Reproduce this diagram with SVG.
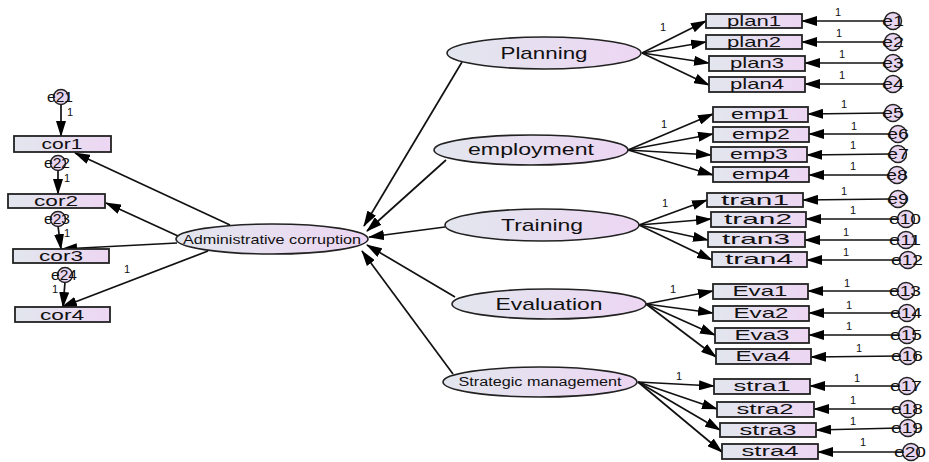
<svg xmlns="http://www.w3.org/2000/svg" width="929" height="462" viewBox="0 0 929 462">
<defs>
<linearGradient id="g" x1="0" y1="0" x2="1" y2="0">
<stop offset="0" stop-color="#e2e6ee"/>
<stop offset="1" stop-color="#edd6f3"/>
</linearGradient>
<marker id="ar" markerUnits="userSpaceOnUse" markerWidth="16" markerHeight="10" refX="15" refY="5" orient="auto">
<path d="M0,0 L16,5 L0,10 z" fill="#000"/>
</marker>
</defs>
<style>
.box{fill:url(#g);stroke:#222;stroke-width:1.8}
.lat{fill:url(#g);stroke:#222;stroke-width:1.6}
.err{fill:#e8d6f0;stroke:#222;stroke-width:1.5}
.t{font-family:"Liberation Sans",Arial,sans-serif;fill:#111;text-anchor:middle}
.bt{font-size:15px}
.lt{font-size:17px}
.et{font-size:14px}
.one{font-family:"Liberation Sans",Arial,sans-serif;font-size:11px;fill:#111}
.c line{stroke:#111;stroke-width:1.7;marker-end:url(#ar)}
</style>
<rect width="929" height="462" fill="#fff"/>
<g class="c" id="connectors">
<line x1="462" y1="62" x2="364" y2="226"/>
<line x1="446" y1="160" x2="367" y2="231"/>
<line x1="445" y1="227" x2="369" y2="237"/>
<line x1="455" y1="297" x2="367" y2="245"/>
<line x1="453" y1="374" x2="362" y2="251"/>
<line x1="230" y1="225" x2="75" y2="153"/>
<line x1="178" y1="236" x2="106" y2="203"/>
<line x1="177" y1="243" x2="62" y2="249"/>
<line x1="208" y1="251" x2="62" y2="307"/>
<line x1="61" y1="104" x2="61" y2="136"/>
<line x1="58" y1="170" x2="58" y2="194"/>
<line x1="58" y1="226" x2="61" y2="249"/>
<line x1="65" y1="282" x2="63" y2="307"/>
<line x1="642" y1="53" x2="706" y2="21"/>
<line x1="642" y1="53" x2="706" y2="42"/>
<line x1="642" y1="53" x2="709" y2="63"/>
<line x1="642" y1="53" x2="709" y2="85"/>
<line x1="628" y1="150" x2="713" y2="114"/>
<line x1="628" y1="150" x2="713" y2="134"/>
<line x1="628" y1="150" x2="711" y2="155"/>
<line x1="628" y1="150" x2="713" y2="175"/>
<line x1="639" y1="225" x2="707" y2="200"/>
<line x1="639" y1="225" x2="711" y2="219"/>
<line x1="639" y1="225" x2="708" y2="240"/>
<line x1="639" y1="225" x2="712" y2="260"/>
<line x1="646" y1="304" x2="713" y2="291"/>
<line x1="646" y1="304" x2="713" y2="313"/>
<line x1="646" y1="304" x2="715" y2="335"/>
<line x1="646" y1="304" x2="716" y2="357"/>
<line x1="638" y1="382" x2="714" y2="386"/>
<line x1="638" y1="382" x2="717" y2="409"/>
<line x1="638" y1="382" x2="720" y2="430"/>
<line x1="638" y1="382" x2="722" y2="452"/>
<line x1="885" y1="21" x2="802" y2="21"/>
<line x1="885" y1="42" x2="802" y2="42"/>
<line x1="885" y1="63" x2="805" y2="63"/>
<line x1="885" y1="84" x2="805" y2="84"/>
<line x1="885" y1="113" x2="808" y2="114"/>
<line x1="890" y1="134" x2="809" y2="134"/>
<line x1="890" y1="154" x2="807" y2="155"/>
<line x1="889" y1="175" x2="809" y2="175"/>
<line x1="890" y1="199" x2="803" y2="200"/>
<line x1="898" y1="219" x2="806" y2="219"/>
<line x1="898" y1="240" x2="805" y2="240"/>
<line x1="900" y1="260" x2="807" y2="260"/>
<line x1="898" y1="291" x2="808" y2="291"/>
<line x1="899" y1="313" x2="809" y2="313"/>
<line x1="899" y1="335" x2="809" y2="335"/>
<line x1="900" y1="356" x2="811" y2="357"/>
<line x1="899" y1="386" x2="810" y2="386"/>
<line x1="900" y1="409" x2="814" y2="409"/>
<line x1="900" y1="428" x2="816" y2="430"/>
<line x1="903" y1="452" x2="818" y2="452"/>
</g>
<g id="labels1">
<text class="one" x="67" y="116">1</text>
<text class="one" x="64" y="182">1</text>
<text class="one" x="64" y="237">1</text>
<text class="one" x="52" y="293">1</text>
<text class="one" x="124" y="273">1</text>
<text class="one" x="660" y="31">1</text>
<text class="one" x="661" y="128">1</text>
<text class="one" x="662" y="207">1</text>
<text class="one" x="670" y="293">1</text>
<text class="one" x="676" y="380">1</text>
<text class="one" x="835" y="16">1</text>
<text class="one" x="836" y="37">1</text>
<text class="one" x="839" y="58">1</text>
<text class="one" x="839" y="79">1</text>
<text class="one" x="841" y="108">1</text>
<text class="one" x="851" y="130">1</text>
<text class="one" x="850" y="149">1</text>
<text class="one" x="850" y="170">1</text>
<text class="one" x="841" y="195">1</text>
<text class="one" x="850" y="214">1</text>
<text class="one" x="843" y="236">1</text>
<text class="one" x="843" y="256">1</text>
<text class="one" x="844" y="287">1</text>
<text class="one" x="846" y="309">1</text>
<text class="one" x="846" y="330">1</text>
<text class="one" x="856" y="352">1</text>
<text class="one" x="854" y="382">1</text>
<text class="one" x="850" y="404">1</text>
<text class="one" x="850" y="425">1</text>
<text class="one" x="860" y="446">1</text>
</g>
<g id="admin"><ellipse class="lat" cx="272" cy="239" rx="96" ry="15"/><text class="t" x="272" y="244" font-size="13" textLength="178" lengthAdjust="spacingAndGlyphs">Administrative corruption</text></g>
<g id="planning"><ellipse class="lat" cx="544" cy="53" rx="97" ry="16"/><text class="t lt" x="544" y="59" textLength="87" lengthAdjust="spacingAndGlyphs">Planning</text></g>
<g id="employment"><ellipse class="lat" cx="531" cy="150" rx="97" ry="15"/><text class="t lt" x="531" y="155" textLength="126" lengthAdjust="spacingAndGlyphs">employment</text></g>
<g id="training"><ellipse class="lat" cx="542" cy="225" rx="97" ry="16"/><text class="t lt" x="542" y="231" textLength="82" lengthAdjust="spacingAndGlyphs">Training</text></g>
<g id="evaluation"><ellipse class="lat" cx="549" cy="304" rx="97" ry="15"/><text class="t lt" x="549" y="310" textLength="107" lengthAdjust="spacingAndGlyphs">Evaluation</text></g>
<g id="strategic"><ellipse class="lat" cx="540" cy="382" rx="97" ry="15"/><text class="t" x="540" y="386" font-size="12" textLength="163" lengthAdjust="spacingAndGlyphs">Strategic management</text></g>
<g id="cor1"><rect class="box" x="14" y="136" width="97" height="16"/><text class="t bt" x="62" y="149" textLength="41" lengthAdjust="spacingAndGlyphs">cor1</text></g>
<g id="cor2"><rect class="box" x="8" y="194" width="97" height="14"/><text class="t bt" x="56" y="206" textLength="44" lengthAdjust="spacingAndGlyphs">cor2</text></g>
<g id="cor3"><rect class="box" x="13" y="249" width="96" height="14"/><text class="t bt" x="61" y="261" textLength="44" lengthAdjust="spacingAndGlyphs">cor3</text></g>
<g id="cor4"><rect class="box" x="15" y="307" width="95" height="15"/><text class="t bt" x="62" y="320" textLength="44" lengthAdjust="spacingAndGlyphs">cor4</text></g>
<g id="plan1"><rect class="box" x="706" y="14" width="96" height="14"/><text class="t bt" x="754" y="26" textLength="54" lengthAdjust="spacingAndGlyphs">plan1</text></g>
<g id="plan2"><rect class="box" x="706" y="35" width="96" height="14"/><text class="t bt" x="754" y="47" textLength="54" lengthAdjust="spacingAndGlyphs">plan2</text></g>
<g id="plan3"><rect class="box" x="709" y="56" width="96" height="15"/><text class="t bt" x="757" y="68" textLength="54" lengthAdjust="spacingAndGlyphs">plan3</text></g>
<g id="plan4"><rect class="box" x="709" y="77" width="96" height="15"/><text class="t bt" x="757" y="89" textLength="54" lengthAdjust="spacingAndGlyphs">plan4</text></g>
<g id="emp1"><rect class="box" x="713" y="107" width="95" height="15"/><text class="t bt" x="760" y="119" textLength="58" lengthAdjust="spacingAndGlyphs">emp1</text></g>
<g id="emp2"><rect class="box" x="713" y="127" width="96" height="15"/><text class="t bt" x="761" y="139" textLength="58" lengthAdjust="spacingAndGlyphs">emp2</text></g>
<g id="emp3"><rect class="box" x="711" y="147" width="96" height="15"/><text class="t bt" x="759" y="159" textLength="58" lengthAdjust="spacingAndGlyphs">emp3</text></g>
<g id="emp4"><rect class="box" x="713" y="167" width="96" height="15"/><text class="t bt" x="761" y="179" textLength="58" lengthAdjust="spacingAndGlyphs">emp4</text></g>
<g id="tran1"><rect class="box" x="707" y="193" width="96" height="14"/><text class="t bt" x="755" y="205" textLength="68" lengthAdjust="spacingAndGlyphs">tran1</text></g>
<g id="tran2"><rect class="box" x="711" y="212" width="95" height="15"/><text class="t bt" x="758" y="224" textLength="68" lengthAdjust="spacingAndGlyphs">tran2</text></g>
<g id="tran3"><rect class="box" x="708" y="232" width="97" height="15"/><text class="t bt" x="756" y="244" textLength="68" lengthAdjust="spacingAndGlyphs">tran3</text></g>
<g id="tran4"><rect class="box" x="712" y="252" width="95" height="15"/><text class="t bt" x="759" y="264" textLength="68" lengthAdjust="spacingAndGlyphs">tran4</text></g>
<g id="eva1"><rect class="box" x="713" y="284" width="95" height="15"/><text class="t bt" x="760" y="296" textLength="55" lengthAdjust="spacingAndGlyphs">Eva1</text></g>
<g id="eva2"><rect class="box" x="713" y="306" width="96" height="15"/><text class="t bt" x="761" y="318" textLength="55" lengthAdjust="spacingAndGlyphs">Eva2</text></g>
<g id="eva3"><rect class="box" x="715" y="328" width="94" height="15"/><text class="t bt" x="762" y="340" textLength="55" lengthAdjust="spacingAndGlyphs">Eva3</text></g>
<g id="eva4"><rect class="box" x="716" y="349" width="95" height="15"/><text class="t bt" x="763" y="361" textLength="55" lengthAdjust="spacingAndGlyphs">Eva4</text></g>
<g id="stra1"><rect class="box" x="714" y="379" width="96" height="15"/><text class="t bt" x="762" y="391" textLength="57" lengthAdjust="spacingAndGlyphs">stra1</text></g>
<g id="stra2"><rect class="box" x="717" y="402" width="97" height="15"/><text class="t bt" x="765" y="414" textLength="57" lengthAdjust="spacingAndGlyphs">stra2</text></g>
<g id="stra3"><rect class="box" x="720" y="423" width="96" height="14"/><text class="t bt" x="768" y="435" textLength="57" lengthAdjust="spacingAndGlyphs">stra3</text></g>
<g id="stra4"><rect class="box" x="722" y="444" width="96" height="15"/><text class="t bt" x="770" y="456" textLength="57" lengthAdjust="spacingAndGlyphs">stra4</text></g>
<g id="e21"><circle class="err" cx="61" cy="97" r="7.5"/><text class="t et" x="60" y="102" textLength="26" lengthAdjust="spacingAndGlyphs">e21</text></g>
<g id="e22"><circle class="err" cx="58" cy="163" r="7.5"/><text class="t et" x="57" y="168" textLength="26" lengthAdjust="spacingAndGlyphs">e22</text></g>
<g id="e23"><circle class="err" cx="58" cy="219" r="7.5"/><text class="t et" x="57" y="224" textLength="26" lengthAdjust="spacingAndGlyphs">e23</text></g>
<g id="e24"><circle class="err" cx="65" cy="275" r="7.5"/><text class="t et" x="64" y="280" textLength="26" lengthAdjust="spacingAndGlyphs">e24</text></g>
<g id="e1"><circle class="err" cx="893" cy="21" r="8.5"/><text class="t et" x="893" y="26" textLength="22" lengthAdjust="spacingAndGlyphs">e1</text></g>
<g id="e2"><circle class="err" cx="893" cy="42" r="8.5"/><text class="t et" x="893" y="47" textLength="22" lengthAdjust="spacingAndGlyphs">e2</text></g>
<g id="e3"><circle class="err" cx="893" cy="63" r="8.5"/><text class="t et" x="893" y="68" textLength="22" lengthAdjust="spacingAndGlyphs">e3</text></g>
<g id="e4"><circle class="err" cx="893" cy="84" r="8.5"/><text class="t et" x="893" y="89" textLength="22" lengthAdjust="spacingAndGlyphs">e4</text></g>
<g id="e5"><circle class="err" cx="893" cy="113" r="8.5"/><text class="t et" x="893" y="118" textLength="22" lengthAdjust="spacingAndGlyphs">e5</text></g>
<g id="e6"><circle class="err" cx="898" cy="134" r="8.5"/><text class="t et" x="898" y="139" textLength="22" lengthAdjust="spacingAndGlyphs">e6</text></g>
<g id="e7"><circle class="err" cx="898" cy="154" r="8.5"/><text class="t et" x="898" y="159" textLength="22" lengthAdjust="spacingAndGlyphs">e7</text></g>
<g id="e8"><circle class="err" cx="897" cy="175" r="8.5"/><text class="t et" x="897" y="180" textLength="22" lengthAdjust="spacingAndGlyphs">e8</text></g>
<g id="e9"><circle class="err" cx="898" cy="199" r="8.5"/><text class="t et" x="898" y="204" textLength="22" lengthAdjust="spacingAndGlyphs">e9</text></g>
<g id="e10"><circle class="err" cx="906" cy="219" r="8.5"/><text class="t et" x="905" y="224" textLength="32" lengthAdjust="spacingAndGlyphs">e10</text></g>
<g id="e11"><circle class="err" cx="906" cy="240" r="8.5"/><text class="t et" x="905" y="245" textLength="32" lengthAdjust="spacingAndGlyphs">e11</text></g>
<g id="e12"><circle class="err" cx="908" cy="260" r="8.5"/><text class="t et" x="907" y="265" textLength="32" lengthAdjust="spacingAndGlyphs">e12</text></g>
<g id="e13"><circle class="err" cx="906" cy="291" r="8.5"/><text class="t et" x="905" y="296" textLength="32" lengthAdjust="spacingAndGlyphs">e13</text></g>
<g id="e14"><circle class="err" cx="907" cy="313" r="8.5"/><text class="t et" x="906" y="318" textLength="32" lengthAdjust="spacingAndGlyphs">e14</text></g>
<g id="e15"><circle class="err" cx="907" cy="335" r="8.5"/><text class="t et" x="906" y="340" textLength="32" lengthAdjust="spacingAndGlyphs">e15</text></g>
<g id="e16"><circle class="err" cx="908" cy="356" r="8.5"/><text class="t et" x="907" y="361" textLength="32" lengthAdjust="spacingAndGlyphs">e16</text></g>
<g id="e17"><circle class="err" cx="907" cy="386" r="8.5"/><text class="t et" x="906" y="391" textLength="32" lengthAdjust="spacingAndGlyphs">e17</text></g>
<g id="e18"><circle class="err" cx="908" cy="409" r="8.5"/><text class="t et" x="907" y="414" textLength="32" lengthAdjust="spacingAndGlyphs">e18</text></g>
<g id="e19"><circle class="err" cx="908" cy="428" r="8.5"/><text class="t et" x="907" y="433" textLength="32" lengthAdjust="spacingAndGlyphs">e19</text></g>
<g id="e20"><circle class="err" cx="911" cy="452" r="8.5"/><text class="t et" x="910" y="457" textLength="32" lengthAdjust="spacingAndGlyphs">e20</text></g>
</svg>
